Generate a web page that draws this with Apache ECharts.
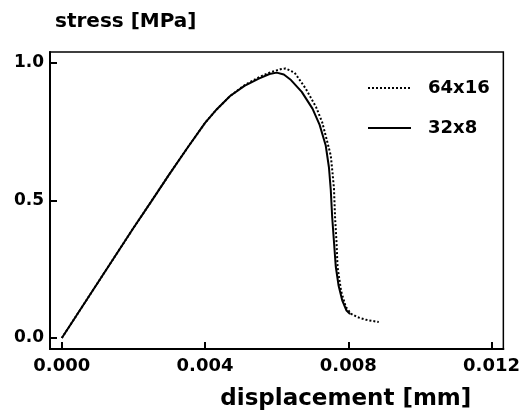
<!DOCTYPE html>
<html>
<head>
<meta charset="utf-8">
<script src="https://cdn.jsdelivr.net/npm/echarts@6/dist/echarts.min.js"></script>
<style>
  html, body { margin: 0; padding: 0; background: #fff; }
  #main { width: 523px; height: 418px; }
</style>
</head>
<body>
<div id="main"></div>
<script>
var xTicks = [0, 0.004, 0.008, 0.012];
var yTicks = [0, 0.5, 1.0];

// 32x8 mesh (solid)
var coarse = [
    [0, 0], [0.0005, 0.10], [0.0010, 0.20], [0.0015, 0.30], [0.0020, 0.40],
    [0.0025, 0.497], [0.0030, 0.595], [0.0035, 0.69], [0.0040, 0.782], [0.0043, 0.828],
    [0.0047, 0.880], [0.0051, 0.917], [0.0055, 0.943], [0.0058, 0.960], [0.0060, 0.965],
    [0.0062, 0.958], [0.0064, 0.938], [0.0067, 0.895], [0.0070, 0.834], [0.0072, 0.775],
    [0.00737, 0.70], [0.00746, 0.62], [0.00751, 0.54], [0.00755, 0.44], [0.0076, 0.35],
    [0.00765, 0.26], [0.00773, 0.19], [0.00783, 0.137], [0.00795, 0.10], [0.00805, 0.087]
];

// 64x16 mesh (dotted)
var fine = [
    [0, 0], [0.0005, 0.10], [0.0010, 0.20], [0.0015, 0.30], [0.0020, 0.40],
    [0.0025, 0.497], [0.0030, 0.595], [0.0035, 0.69], [0.0040, 0.782], [0.0043, 0.828],
    [0.0047, 0.880], [0.0051, 0.919], [0.0055, 0.948], [0.0058, 0.965], [0.0061, 0.977],
    [0.00625, 0.98], [0.0065, 0.965], [0.00681, 0.907], [0.0071, 0.84], [0.00727, 0.785],
    [0.0074, 0.72], [0.00751, 0.664], [0.00756, 0.60], [0.0076, 0.544], [0.00763, 0.44],
    [0.00767, 0.35], [0.0077, 0.258], [0.0078, 0.17], [0.00793, 0.113], [0.00808, 0.088],
    [0.00825, 0.076], [0.0085, 0.066], [0.00885, 0.058]
];

var font = 'DejaVu Sans';
var chart = echarts.init(document.getElementById('main'));

var option = {
    animation: false,
    grid: {
        left: 50, right: 18, top: 52, bottom: 69,
        show: true,
        borderColor: '#000',
        borderWidth: 1.5
    },
    legend: {
        orient: 'vertical',
        left: 367,
        top: 79,
        padding: 0,
        itemWidth: 43,
        itemHeight: 14,
        itemGap: 22,
        itemStyle: { color: 'transparent', borderWidth: 0 },
        textStyle: {
            fontFamily: font, fontWeight: 'bold', fontSize: 18, color: '#000',
            padding: [0, 0, 0, 12]
        },
        data: ['64x16', '32x8']
    },
    xAxis: {
        type: 'value',
        min: -0.00033,
        max: 0.01233,
        name: 'displacement [mm]',
        nameLocation: 'end',
        nameGap: -32,
        nameTextStyle: {
            fontFamily: font, fontWeight: 'bold', fontSize: 23, color: '#000',
            align: 'right', verticalAlign: 'top', padding: [39, 0, 0, 0]
        },
        splitLine: { show: false },
        axisLine: { onZero: false, lineStyle: { color: '#000', width: 2 } },
        axisTick: {
            inside: true, length: 7, customValues: xTicks,
            lineStyle: { color: '#000', width: 2 }
        },
        axisLabel: {
            customValues: xTicks,
            fontFamily: font, fontWeight: 'bold', fontSize: 18, color: '#000',
            margin: 8,
            formatter: function (v) { return v.toFixed(3); }
        }
    },
    yAxis: {
        type: 'value',
        min: -0.04,
        max: 1.04,
        name: 'stress [MPa]',
        nameLocation: 'end',
        nameGap: 30,
        nameTextStyle: {
            fontFamily: font, fontWeight: 'bold', fontSize: 20, color: '#000',
            align: 'left', verticalAlign: 'middle', padding: [0, 0, 0, 5]
        },
        splitLine: { show: false },
        axisLine: { onZero: false, lineStyle: { color: '#000', width: 2 } },
        axisTick: {
            inside: true, length: 7, customValues: yTicks,
            lineStyle: { color: '#000', width: 2 }
        },
        axisLabel: {
            customValues: yTicks,
            fontFamily: font, fontWeight: 'bold', fontSize: 17, color: '#000',
            margin: 6,
            formatter: function (v) { return v.toFixed(1); }
        }
    },
    series: [
        {
            name: '64x16',
            type: 'line',
            symbol: 'none',
            color: '#000',
            lineStyle: { color: '#000', width: 2, type: [2, 2] },
            data: fine
        },
        {
            name: '32x8',
            type: 'line',
            symbol: 'none',
            color: '#000',
            lineStyle: { color: '#000', width: 2 },
            data: coarse
        }
    ]
};

chart.setOption(option);
</script>
</body>
</html>
